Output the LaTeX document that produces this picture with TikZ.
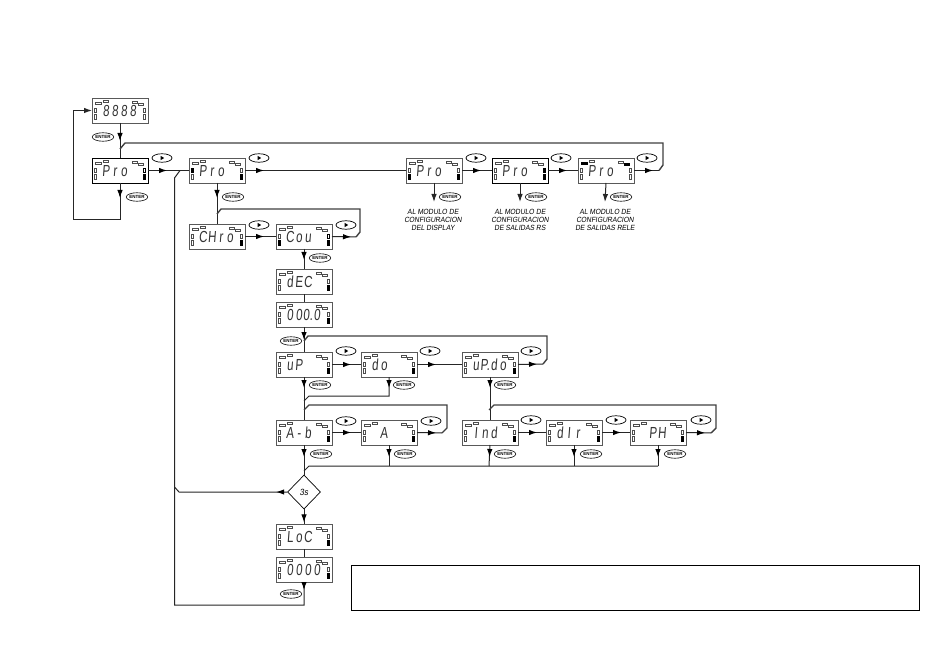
\documentclass[tikz,border=0pt]{standalone}
\usepackage{fontspec}
\usetikzlibrary{shapes.geometric,arrows.meta,decorations.markings}
\setmainfont{Liberation Sans}
\newfontfamily\lcdfont[FakeStretch=0.72,FakeSlant=0.08]{Liberation Sans}
\newfontfamily\notefont[FakeStretch=0.9,FakeSlant=0.15]{Liberation Sans}
\newcommand\dg[1]{\makebox[9pt][c]{#1}}
\tikzset{
  x=1pt,y=-1pt,
  wire/.style={line width=1pt,draw=black!85},
  hbus/.style={line width=1.4pt,draw=black!75},
  arr/.style={postaction={decorate},decoration={markings,mark=at position #1pt with {\arrow[black]{Latex[length=8pt,width=5.5pt]}}}},
  endtip/.style={-{Latex[length=8pt,width=5.5pt]}},
  lcdbox/.style={draw=black!65,line width=.9pt,fill=white,anchor=north west,minimum width=56pt,minimum height=25pt,inner sep=0pt,outer sep=0pt,text=black!80},
  boldbox/.style={draw=black,line width=.8pt},
  indoff/.style={draw=black!70,line width=.45pt,fill=white},
  indon/.style={draw=black,line width=.45pt,fill=black},
  inda/.style={indoff},indb/.style={indoff},indc/.style={indoff},indd/.style={indoff},
  inde/.style={indoff},indf/.style={indoff},indg/.style={indoff},indh/.style={indoff},
  enterbtn/.style={ellipse,draw=black,line width=.6pt,fill=white,minimum width=20pt,minimum height=8.5pt,inner sep=0pt,font=\fontsize{4.5}{5}\selectfont\bfseries},
  playbtn/.style={ellipse,draw=black,line width=.7pt,fill=white,minimum width=20pt,minimum height=8.5pt,inner sep=0pt},
  decision/.style={diamond,draw=black,line width=.7pt,fill=white,minimum width=33pt,minimum height=34pt,inner sep=0pt,aspect=1,font=\fontsize{9}{10}\selectfont\notefont},
  notetext/.style={align=center,inner sep=0pt,font=\fontsize{7.5}{8}\selectfont\notefont},
}
% name, left, top, text, options for the indicators
\newcommand\lcd[5]{%
  \node[lcdbox,#5] (#1) at (#2,#3) {\makebox[56pt][l]{\hspace{9.5pt}\lcdfont\fontsize{16}{16}\selectfont\rule{0pt}{12pt}#4}};
  \begin{scope}[shift={(#2,#3)},#5]
    \draw[inda] (3.7,4.3) rectangle (9,6.7);
    \draw[indb] (11.7,2.7) rectangle (16.7,4.7);
    \draw[indc] (40,3) rectangle (45,5);
    \draw[indd] (46,5) rectangle (51,7);
    \draw[inde] (2,10) rectangle (4.3,14.7);
    \draw[indf] (2,16.3) rectangle (4.3,21.7);
    \draw[indg] (51,10) rectangle (53.3,14.7);
    \draw[indh] (51,16.3) rectangle (53.3,21.7);
  \end{scope}}
\newcommand\play[3]{%
  \node[playbtn] (#1) at (#2,#3) {};
  \fill[shift={(#2,#3)}] (-1.5,-2.2) -- (2.2,0) -- (-1.5,2.2) -- cycle;}
\newcommand\enterb[3]{\node[enterbtn] (#1) at (#2,#3) {ENTER};}
\tikzset{hon/.style={indh/.style={indon}}}
\begin{document}
\begin{tikzpicture}
\useasboundingbox (0,0) rectangle (950,660);
\fill[white] (0,0) rectangle (950,660);
% displays
\lcd{init}{92}{98}{\dg8\dg8\dg8\dg8}{}
\lcd{proa}{92}{158}{\dg P\dg r\dg o}{boldbox,indh/.style={indon},indg/.style={draw=black,line width=.9pt,fill=white}}
\lcd{prob}{189}{158}{\dg P\dg r\dg o}{inde/.style={indon},indh/.style={indon}}
\lcd{proc}{406}{158}{\dg P\dg r\dg o}{indf/.style={indon},indh/.style={indon}}
\lcd{prod}{492}{158}{\dg P\dg r\dg o}{boldbox,indg/.style={indon},indh/.style={indon}}
\lcd{proe}{578}{158}{\dg P\dg r\dg o}{inda/.style={indon},indd/.style={indon}}
\lcd{chro}{189}{224}{\dg C\dg H\dg r\dg o}{hon}
\lcd{cou}{276}{224}{\dg C\dg o\dg u}{indf/.style={indon},indh/.style={indon},indg/.style={draw=black,line width=.9pt,fill=white}}
\lcd{dec}{276}{269}{\dg d\dg E\dg C}{hon}
\lcd{dval}{276}{302}{\dg0\dg0\dg{0.}\dg0}{hon}
\lcd{up}{276}{352}{\dg u\dg P}{hon}
\lcd{do}{361}{352}{\dg d\dg o}{hon}
\lcd{updo}{462}{352}{\dg u\dg{P.}\dg d\dg o}{hon}
\lcd{ab}{276}{420}{\dg A\dg -\dg b}{hon}
\lcd{aa}{361}{420}{\dg{}\dg A}{hon}
\lcd{ind}{462}{420}{\dg I\dg n\dg d}{hon}
\lcd{dir}{546}{420}{\dg d\dg I\dg r}{hon}
\lcd{ph}{630}{420}{\dg{}\dg P\dg H}{hon}
\lcd{loc}{276}{524}{\dg L\dg o\dg C}{hon}
\lcd{lval}{276}{557}{\dg0\dg0\dg0\dg0}{hon}
\node[decision] (dia) at (304,492) {3s};
\node[draw=black,line width=.9pt,anchor=north west,minimum width=568pt,minimum height=45pt,inner sep=0pt] (note) at (351,565) {};
% notes
\node[notetext] (ta) at (433,220) {AL MODULO DE\\CONFIGURACION\\DEL DISPLAY};
\node[notetext] (tb) at (520,220) {AL MODULO DE\\CONFIGURACION\\DE SALIDAS RS};
\node[notetext] (tc) at (605,220) {AL MODULO DE\\CONFIGURACION\\DE SALIDAS RELE};
% free ends
\coordinate (da) at (434,202);
\coordinate (db) at (520,202);
\coordinate (dc) at (605,202);
% connectors
\draw[wire,endtip,arr=15] (proa.south) -- (120,220) -- (73,220) -- (73,110.5) -- (init.west);
\draw[wire,arr=18] (init.south) -- (proa.north);
\draw[hbus] (120,149) -- (125,143) -- (663,143) -- (663,165) -- (659,170.5);
\draw[wire,arr=19] (proe.east) -- (659,170.5);
\draw[wire,arr=19] (proa.east) -- (prob.west);
\draw[wire,arr=19] (prob.east) -- (proc.west);
\draw[wire,arr=19] (proc.east) -- (prod.west);
\draw[wire,arr=19] (prod.east) -- (proe.west);
\draw[wire,endtip] (proc.south) -- (da);
\draw[wire,endtip] (prod.south) -- (db);
\draw[wire,endtip] (proe.south) -- (dc);
\draw[wire,arr=15] (prob.south) -- (chro.north);
\draw[hbus] (217,214) -- (221,209) -- (360,209) -- (360,232) -- (356,237);
\draw[wire,arr=19] (cou.east) -- (356,237);
\draw[wire,arr=19] (chro.east) -- (cou.west);
\draw[wire,arr=11] (cou.south) -- (dec.north);
\draw[wire] (dec.south) -- (dval.north);
\draw[wire,arr=13] (dval.south) -- (up.north);
\draw[hbus] (304,341) -- (308,336) -- (547,336) -- (547,359) -- (543,364);
\draw[wire,arr=19] (updo.east) -- (543,364);
\draw[wire,arr=19] (up.east) -- (do.west);
\draw[wire,arr=19] (do.east) -- (updo.west);
\draw[wire,arr=11] (up.south) -- (ab.north);
\draw[wire,arr=11] (do.south) -- (389,396) -- (309,396) -- (304,401);
\draw[hbus] (304,410) -- (309,405) -- (447,405) -- (447,428) -- (442,433);
\draw[wire,arr=19] (aa.east) -- (442,433);
\draw[wire,arr=19] (ab.east) -- (aa.west);
\draw[wire,arr=11] (updo.south) -- (ind.north);
\draw[hbus] (489,410) -- (494,405) -- (716,405) -- (716,428) -- (711,433);
\draw[wire,arr=19] (ph.east) -- (711,433);
\draw[wire,arr=19] (ind.east) -- (dir.west);
\draw[wire,arr=19] (dir.east) -- (ph.west);
\draw[wire,arr=12] (ab.south) -- (dia.north);
\draw[wire] (304,471) -- (309,466) -- (658,466);
\draw[wire,arr=12] (aa.south) -- (389,466);
\draw[wire,arr=12] (ind.south) -- (489,466);
\draw[wire,arr=12] (dir.south) -- (574,466);
\draw[wire,arr=12] (ph.south) -- (658,466);
\draw[wire,arr=11] (dia.west) -- (179,492) -- (174.5,487);
\draw[wire,arr=13] (dia.south) -- (loc.north);
\draw[wire] (loc.south) -- (lval.north);
\draw[wire,arr=8] (lval.south) -- (304,605) -- (174.5,605) -- (174.5,178) -- (180,170.5);
% buttons
\play{pa}{162}{158}
\play{pb}{259}{158}
\play{pc}{476}{158}
\play{pd}{561}{158}
\play{pe}{647}{158}
\play{pf}{259}{225}
\play{pg}{346}{225}
\play{ph1}{346}{351}
\play{pi}{430}{351}
\play{pj}{531}{351}
\play{pk}{346}{421}
\play{pl}{431}{421}
\play{pm}{531}{420}
\play{pn}{616}{420}
\play{po}{701}{420}
\enterb{ea}{103}{137}
\enterb{eb}{137}{197}
\enterb{ec}{233}{197}
\enterb{ed}{450}{197}
\enterb{ee}{536}{197}
\enterb{ef}{621}{197}
\enterb{eg}{320}{258}
\enterb{eh}{291}{341}
\enterb{ei}{320}{385}
\enterb{ej}{404}{385}
\enterb{ek}{505}{385}
\enterb{el}{321}{454}
\enterb{em}{405}{454}
\enterb{en}{505}{454}
\enterb{eo}{591}{454}
\enterb{ep}{675}{454}
\enterb{eq}{291}{594}
\end{tikzpicture}
\end{document}
